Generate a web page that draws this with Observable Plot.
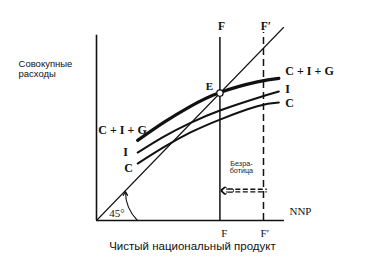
<!DOCTYPE html>
<html>
<head>
<meta charset="utf-8">
<script src="https://cdn.jsdelivr.net/npm/d3@7"></script>
<script src="https://cdn.jsdelivr.net/npm/@observablehq/plot@0.6"></script>
<style>
  html, body { margin: 0; padding: 0; background: #fff; }
</style>
</head>
<body>
<div id="chart"></div>
<script>
// Estimated readings (NNP on x, aggregate expenditures on y, same units; 45° line y = x)
const curveX = [22, 36, 50, 66, 86, 97.5];
const cigY   = [41.5, 50.8, 59, 66.3, 71.8, 73.6];   // C + I + G
const ciY    = [35.2, 43.5, 50.5, 57, 63.5, 66.8];   // I (C + I)
const cY     = [29.5, 38, 45.5, 52.3, 59.2, 61.1];   // C
const diagonal = [[0, 0], [100, 100]];
const fullEmploymentF = 66;   // F
const fullEmploymentF2 = 89.3; // F'
const equilibrium = [{x: 66, y: 66}];
const angleDeg = 45;

const toRows = ys => curveX.map((x, i) => ({x, y: ys[i]}));

const serif = "Liberation Serif, DejaVu Serif, serif";
const sans = "Liberation Sans, Arial, sans-serif";

const chart = Plot.plot({
  width: 374,
  height: 276,
  marginLeft: 96,
  marginRight: 91,
  marginTop: 27,
  marginBottom: 56,
  x: {domain: [0, 100], axis: null},
  y: {domain: [0, 100], axis: null},
  clip: false,
  style: {background: "#fff", color: "#111"},
  marks: [
    // axes
    Plot.ruleX([0], {y1: 0, y2: 96, stroke: "#111", strokeWidth: 1.6}),
    Plot.ruleY([0], {x1: 0, x2: 100.5, stroke: "#111", strokeWidth: 1.6}),
    // 45° line
    Plot.line(diagonal, {x: d => d[0], y: d => d[1], stroke: "#111", strokeWidth: 1.1}),
    // angle arc with arrow
    Plot.arrow([{a: 0}], {
      x1: 21.9, y1: 0,
      x2: 21.9 * Math.cos(angleDeg * Math.PI / 180), y2: 21.2 * Math.sin(angleDeg * Math.PI / 180),
      bend: 22.5, stroke: "#111", strokeWidth: 1.1, headLength: 6
    }),
    Plot.text([{a: 0}], {x: 11, y: 3.8, text: () => "45°", fontFamily: serif, fontSize: 11, fill: "#111"}),
    // F and F' lines
    Plot.ruleX([fullEmploymentF], {y1: 0, y2: 94.8, stroke: "#111", strokeWidth: 1.5}),
    Plot.ruleX([fullEmploymentF2], {y1: 0, y2: 97.4, stroke: "#111", strokeWidth: 1.5, strokeDasharray: "7,4"}),
    // curves
    Plot.line(toRows(cY), {x: "x", y: "y", curve: "natural", stroke: "#111", strokeWidth: 2}),
    Plot.line(toRows(ciY), {x: "x", y: "y", curve: "natural", stroke: "#111", strokeWidth: 2}),
    Plot.line(toRows(cigY), {x: "x", y: "y", curve: "natural", stroke: "#111", strokeWidth: 3.2}),
    // equilibrium point
    Plot.dot(equilibrium, {x: "x", y: "y", r: 3.2, fill: "#fff", stroke: "#111", strokeWidth: 1.3}),
    Plot.text(equilibrium, {x: d => d.x - 5.6, y: d => d.y + 3.3, text: () => "E", fontFamily: serif, fontSize: 11, fontWeight: "bold", fill: "#111"}),
    // unemployment gap arrow (double dashed, hollow head)
    Plot.ruleY([14.8, 16.2], {x1: 70.5, x2: 91.3, stroke: "#111", strokeWidth: 1.3, strokeDasharray: "5,2.5"}),
    Plot.arrow([{a: 0}], {x1: 72.5, y1: 15.5, x2: 67.4, y2: 15.5, stroke: "#111", strokeWidth: 4, headLength: 7, headAngle: 80}),
    Plot.arrow([{a: 0}], {x1: 72.8, y1: 15.5, x2: 67.9, y2: 15.5, stroke: "#fff", strokeWidth: 1.6, headLength: 5.5, headAngle: 80}),
    Plot.text([{a: 0}], {x: 77.5, y: 27.7, text: () => "Безра-\nботица", fontFamily: sans, fontSize: 7.2, lineHeight: 1.05, fill: "#222"}),
    // top labels
    Plot.text([{t: "F", x: 66.8}, {t: "F′", x: 90.6}], {x: "x", y: 100.5, text: "t", fontFamily: serif, fontSize: 11.5, fontWeight: "bold", fill: "#111"}),
    // bottom labels
    Plot.text([{t: "F", x: 68.4}, {t: "F′", x: 90}], {x: "x", y: -6.5, text: "t", fontFamily: serif, fontSize: 11, fill: "#111"}),
    Plot.text([{a: 0}], {x: 103.2, y: 4.7, text: () => "NNP", fontFamily: serif, fontSize: 11, textAnchor: "start", fill: "#111"}),
    // curve labels, right
    Plot.text([{t: "C + I + G", y: 77.2}, {t: "I", y: 67.9}, {t: "C", y: 60.8}], {x: 101, y: "y", text: "t", textAnchor: "start", fontFamily: serif, fontSize: 12, fontWeight: "bold", fill: "#111"}),
    // curve labels, left
    Plot.text([{a: 0}], {x: 1, y: 47, text: () => "C + I + G", textAnchor: "start", fontFamily: serif, fontSize: 12, fontWeight: "bold", fill: "#111"}),
    Plot.text([{t: "I", x: 15.5, y: 35.2}, {t: "C", x: 17.1, y: 27}], {x: "x", y: "y", text: "t", fontFamily: serif, fontSize: 12, fontWeight: "bold", fill: "#111"}),
    // axis titles
    Plot.text([{a: 0}], {x: -41.7, y: 78.7, text: () => "Совокупные\nрасходы", textAnchor: "start", fontFamily: sans, fontSize: 9.5, lineHeight: 1.05, fill: "#111"}),
    Plot.text([{a: 0}], {x: 51.3, y: -13.6, text: () => "Чистый национальный продукт", fontFamily: sans, fontSize: 11.5, fill: "#111"})
  ]
});
document.getElementById("chart").appendChild(chart);
</script>
</body>
</html>
